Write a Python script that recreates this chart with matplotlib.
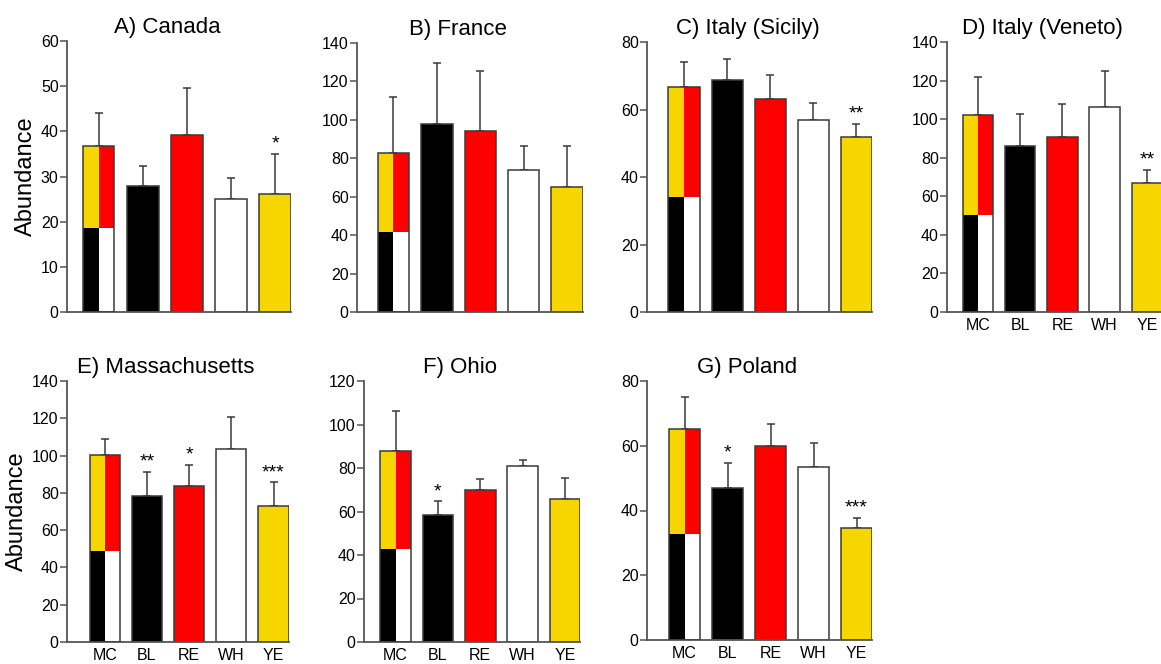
import matplotlib
matplotlib.use("Agg")
import matplotlib.pyplot as plt

plt.rcParams['font.family'] = ['Liberation Sans', 'DejaVu Sans']

categories = ["MC", "BL", "RE", "WH", "YE"]

titles = ["A) Canada", "B) France", "C) Italy (Sicily)", "D) Italy (Veneto)",
          "E) Massachusetts", "F) Ohio", "G) Poland"]

canada_means = [36.7, 27.8, 39.2, 25.0, 26.2]
canada_tops = [44.0, 32.3, 49.6, 29.6, 35.0]
canada_stars = ["", "", "", "", "*"]

france_means = [83.0, 97.6, 94.1, 74.0, 65.0]
france_tops = [111.9, 129.6, 125.5, 86.3, 86.3]
france_stars = ["", "", "", "", ""]

sicily_means = [66.6, 68.8, 63.1, 57.0, 52.0]
sicily_tops = [74.1, 75.0, 70.1, 61.8, 55.7]
sicily_stars = ["", "", "", "", "**"]

veneto_means = [102.1, 86.1, 90.8, 106.4, 66.7]
veneto_tops = [122.0, 102.6, 108.1, 124.9, 73.5]
veneto_stars = ["", "", "", "", "**"]

mass_means = [100.5, 78.3, 83.5, 103.3, 73.0]
mass_tops = [108.7, 91.4, 94.8, 120.5, 85.6]
mass_stars = ["", "**", "*", "", "***"]

ohio_means = [87.9, 58.2, 70.0, 81.0, 65.7]
ohio_tops = [106.2, 64.6, 75.0, 83.9, 75.2]
ohio_stars = ["", "*", "", "", ""]

poland_means = [65.1, 46.9, 60.0, 53.3, 34.6]
poland_tops = [75.1, 54.8, 66.8, 60.8, 37.8]
poland_stars = ["", "*", "", "", "***"]

# height of the lower (black / white) part of the mixed-colour MC bar
mc_split = [18.5, 41.8, 34.1, 50.2, 49.0, 42.7, 32.7]

y_max = [60, 140, 80, 140, 140, 120, 80]
y_step = [10, 20, 20, 20, 20, 20, 20]

means = [canada_means, france_means, sicily_means, veneto_means, mass_means, ohio_means, poland_means]
tops = [canada_tops, france_tops, sicily_tops, veneto_tops, mass_tops, ohio_tops, poland_tops]
stars = [canada_stars, france_stars, sicily_stars, veneto_stars, mass_stars, ohio_stars, poland_stars]

YELLOW = "#F7D600"
RED = "#FF0000"
EDGE = "#3a3a3a"
AXC = "#555555"
bar_colors = [None, "black", RED, "white", YELLOW]

W, H = 1161, 664
fig = plt.figure(figsize=(W / 100, H / 100), dpi=100)

# layout in pixels: axis-left, MC-centre, spacing, y-top, y-bottom
layout = [
    (67, 98.5, 44.2, 41, 312),
    (357, 393.5, 43.4, 43, 312),
    (647, 684, 43.1, 42, 312),
    (947, 978, 42.2, 42, 312),
    (67, 104.7, 42.2, 381, 642),
    (364, 395.5, 42.4, 381, 642),
    (647, 684.5, 43.0, 381, 640),
]
show_xlabels = [False, False, False, True, True, True, True]
show_ylabel = [True, False, False, False, True, False, False]

bw = 0.72
for i in range(7):
    ax0, mc, sp, yt, yb = layout[i]
    xl = -(mc - ax0) / sp
    xr = 4 + bw / 2
    wpx = (xr - xl) * sp
    ax = fig.add_axes([ax0 / W, 1 - yb / H, wpx / W, (yb - yt) / H])
    ax.set_xlim(xl, xr)
    ax.set_ylim(0, y_max[i])
    m = means[i]
    t = tops[i]
    xs = list(range(len(categories)))
    for j in xs:
        ax.errorbar(j, m[j], yerr=[[0], [t[j] - m[j]]], fmt='none', ecolor=EDGE,
                    elinewidth=1.1, capsize=3, capthick=1.1, zorder=1)
        if stars[i][j]:
            ax.annotate(stars[i][j], (j, t[j]), xytext=(0, 1), textcoords='offset points',
                        ha='center', va='bottom', fontsize=14, zorder=5)
    low = mc_split[i]
    ax.bar(-bw / 4, low, width=bw / 2, color="black", linewidth=0, zorder=2)
    ax.bar(bw / 4, low, width=bw / 2, color="white", linewidth=0, zorder=2)
    ax.bar(-bw / 4, m[0] - low, bottom=low, width=bw / 2, color=YELLOW, linewidth=0, zorder=2)
    ax.bar(bw / 4, m[0] - low, bottom=low, width=bw / 2, color=RED, linewidth=0, zorder=2)
    ax.bar(0, m[0], width=bw, fill=False, edgecolor=EDGE, linewidth=1.1, zorder=3)
    for j in xs[1:]:
        ax.bar(j, m[j], width=bw, color=bar_colors[j], edgecolor=EDGE, linewidth=1.1, zorder=2)

    for s in ['top', 'right']:
        ax.spines[s].set_visible(False)
    for s in ['left', 'bottom']:
        ax.spines[s].set_color(AXC)
        ax.spines[s].set_linewidth(1.3)
    ax.set_yticks(range(0, y_max[i] + 1, y_step[i]))
    ax.tick_params(axis='y', direction='out', length=5, width=1.1, color=AXC,
                   labelsize=11.5, pad=1)
    ax.set_xticks(xs)
    if show_xlabels[i]:
        ax.set_xticklabels(categories)
    else:
        ax.set_xticklabels([])
    ax.tick_params(axis='x', length=0, labelsize=11.5, pad=4)
    ax.set_title(titles[i], fontsize=16, pad=6, x=0.5 - 12 / wpx)
    if show_ylabel[i]:
        ax.set_ylabel("Abundance", fontsize=17, labelpad=3)

fig.savefig("out.png", dpi=100)
